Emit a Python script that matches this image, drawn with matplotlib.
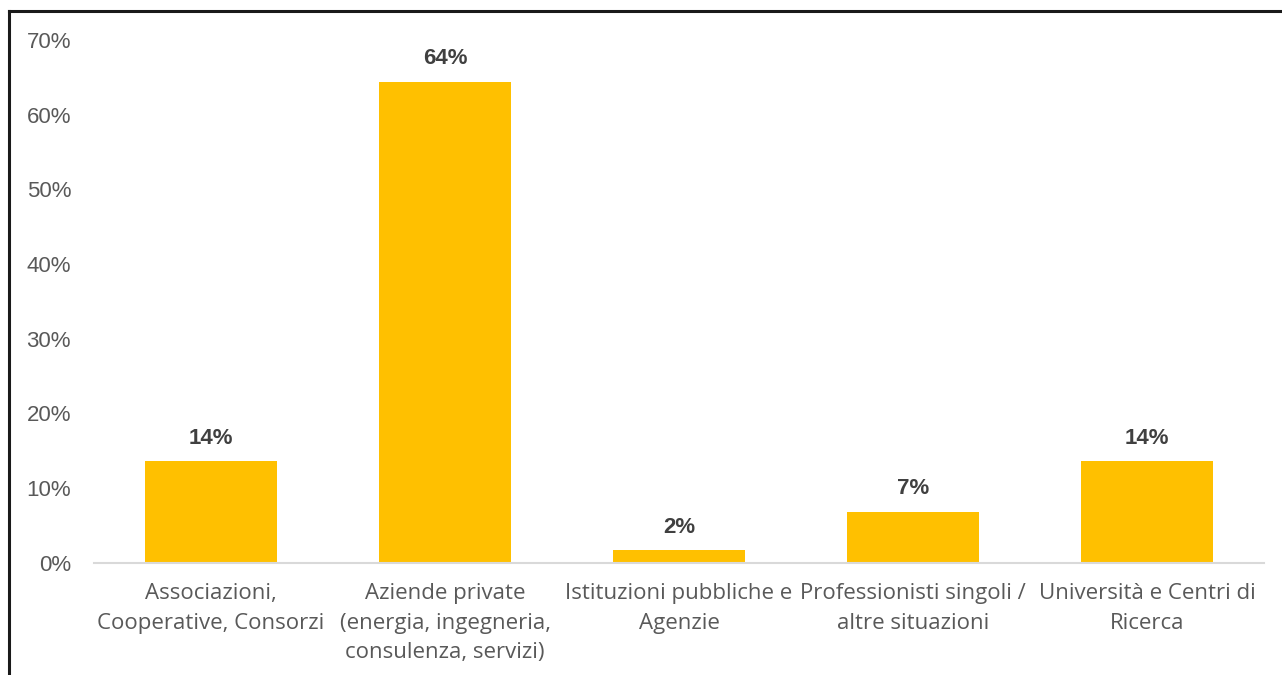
import matplotlib
matplotlib.use("Agg")
import matplotlib.pyplot as plt
from matplotlib.lines import Line2D
from matplotlib.ticker import PercentFormatter, MultipleLocator

categories = [
    "Associazioni,\nCooperative, Consorzi",
    "Aziende private\n(energia, ingegneria,\nconsulenza, servizi)",
    "Istituzioni pubbliche e\nAgenzie",
    "Professionisti singoli /\naltre situazioni",
    "Università e Centri di\nRicerca",
]
shares = [0.136, 0.644, 0.017, 0.068, 0.136]

W, H, DPI = 1282, 675, 100
fig = plt.figure(figsize=(W / DPI, H / DPI), dpi=DPI)
ax = fig.add_axes([94 / W, 1 - 562.7 / H, (1264 - 94) / W, (562.7 - 40) / H])

bar_color = "#FFC000"
text_gray = "#595959"
label_dark = "#404040"

x = range(len(categories))
bars = ax.bar(x, shares, width=0.56, color=bar_color, zorder=2)

ax.set_xlim(-0.5, len(categories) - 0.5)
ax.set_ylim(0, 0.70)
ax.yaxis.set_major_locator(MultipleLocator(0.10))
ax.yaxis.set_major_formatter(PercentFormatter(1.0, decimals=0))

for s in ["top", "right", "left"]:
    ax.spines[s].set_visible(False)
ax.spines["bottom"].set_color("#D9D9D9")
ax.spines["bottom"].set_linewidth(1.5)

ax.tick_params(axis="y", length=0, pad=16.5, labelsize=16, labelcolor=text_gray)
ax.tick_params(axis="x", length=0, pad=14.5)
for lab in ax.get_yticklabels():
    lab.set_fontfamily("Liberation Sans")

ax.set_xticks(list(x))
ax.set_xticklabels(categories, fontsize=16, color=text_gray,
                   family="Open Sans", linespacing=1.55)

for rect, v in zip(bars, shares):
    ax.annotate(f"{v:.0%}", xy=(rect.get_x() + rect.get_width() / 2, v),
                xytext=(0, 9), textcoords="offset points",
                ha="center", va="bottom", fontsize=16, fontweight="bold",
                color=label_dark, family="Liberation Sans")

# Frame lines along the top and left edges of the picture
fig.add_artist(Line2D([9 / W, 9 / W], [0, 1 - 11 / H], transform=fig.transFigure,
                      color="#1a1a1a", linewidth=2.2))
fig.add_artist(Line2D([9 / W, 1], [1 - 11 / H, 1 - 11 / H], transform=fig.transFigure,
                      color="#1a1a1a", linewidth=2.2))

fig.savefig("out.png", dpi=DPI)
